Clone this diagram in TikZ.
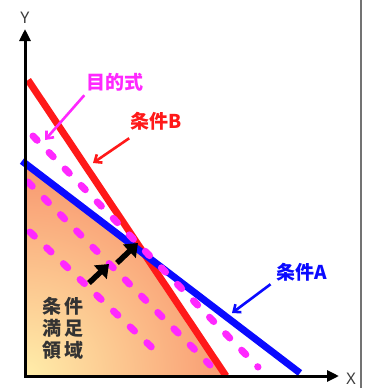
\documentclass[tikz,border=0pt]{standalone}
\usepackage{fontspec}
\newfontfamily\cjk{Noto Sans CJK JP}
\newfontfamily\lat{Noto Sans}
\usetikzlibrary{arrows.meta}
\definecolor{redB}{RGB}{255,25,25}
\definecolor{blueA}{RGB}{10,10,255}
\definecolor{mag}{RGB}{255,40,255}
\definecolor{pale}{RGB}{255,238,170}
\definecolor{coral}{RGB}{246,122,92}
\definecolor{axisgray}{RGB}{60,60,60}
\begin{document}
\begin{tikzpicture}[x=1pt,y=-1pt,
  axisline/.style={line width=3pt,black,{Triangle[length=12pt,width=11pt]}-{Triangle[length=12pt,width=11pt]}},
  constr/.style={line width=7pt},
  objline/.style={mag,line width=7pt,line cap=round,dash pattern=on 6pt off 17pt},
  leader/.style={line width=2.6pt,-{Straight Barb[length=6pt,width=10pt]}},
  push/.style={line width=5.5pt,black,-{Triangle[length=12pt,width=18pt]}},
  lbl/.style={font=\cjk\bfseries\fontsize{19}{22}\selectfont,inner sep=0pt},
  axlbl/.style={font=\lat\fontsize{16}{18}\selectfont,text=axisgray,inner sep=0pt}]
\useasboundingbox (0,0) rectangle (364,388);
% coordinates
\coordinate (O) at (25,376);
\coordinate (Ytip) at (25,29);
\coordinate (Xtip) at (339,376);
\coordinate (B0) at (28,80);
\coordinate (B1) at (226,376);
\coordinate (A0) at (22,161);
\coordinate (A1) at (300,373);
\coordinate (Ay) at (25,163.3);
\coordinate (I) at (intersection of A0--A1 and B0--B1);
% feasible region
\begin{scope}
  \clip (Ay) -- (I) -- (B1) -- (O) -- cycle;
  \shade[inner color=pale,outer color=coral] (O) circle (280);
\end{scope}
% objective lines (lower two)
\coordinate (M2a) at (28,182);
\coordinate (M2b) at (210,365);
\coordinate (M3a) at (30,232);
\coordinate (M3b) at (163,358);
\draw[objline] (M2a) -- (M2b);
\draw[objline] (M3a) -- (M3b);
% constraint lines
\draw[constr,redB] (B0) -- (B1);
\draw[constr,blueA] (A0) -- (A1);
% objective line through optimum
\coordinate (M1a) at (33,136);
\coordinate (M1b) at (258,367);
\draw[objline] (M1a) -- (M1b);
% axes
\draw[axisline] (Ytip) -- (O) -- (Xtip);
\node[axlbl] (ylab) at (25,18) {Y};
\node[axlbl] (xlab) at (351,379) {X};
% push arrows
\coordinate (P1a) at (89,283);
\coordinate (P1b) at (109,264);
\coordinate (P2a) at (117,263);
\coordinate (P2b) at (138,243);
\draw[push] (P1a) -- (P1b);
\draw[push] (P2a) -- (P2b);
% labels
\node[lbl,text=mag] (obj) at (115,82) {目的式};
\node[lbl,text=redB] (condB) at (156,121) {条件B};
\node[lbl,text=blueA] (condA) at (302,272) {条件A};
\node[lbl,text=black!80,align=center] (region) at (63,328) {条\hspace{4pt}件\\満\hspace{4pt}足\\領\hspace{4pt}域};
% leaders
\coordinate (Lm) at (45,140);
\coordinate (Lr) at (93,163);
\coordinate (Lb) at (232,313);
\draw[leader,mag] (obj.south west) ++(-2,4) coordinate (Lms) -- (Lm);
\draw[leader,redB] (condB.south west) ++(-1,8) coordinate (Lrs) -- (Lr);
\draw[leader,blueA] (condA.south west) ++(-6,3) coordinate (Lbs) -- (Lb);
% frame edge
\draw[line width=1.2pt,black!55] (361,0) -- (361,388);
\end{tikzpicture}
\end{document}
